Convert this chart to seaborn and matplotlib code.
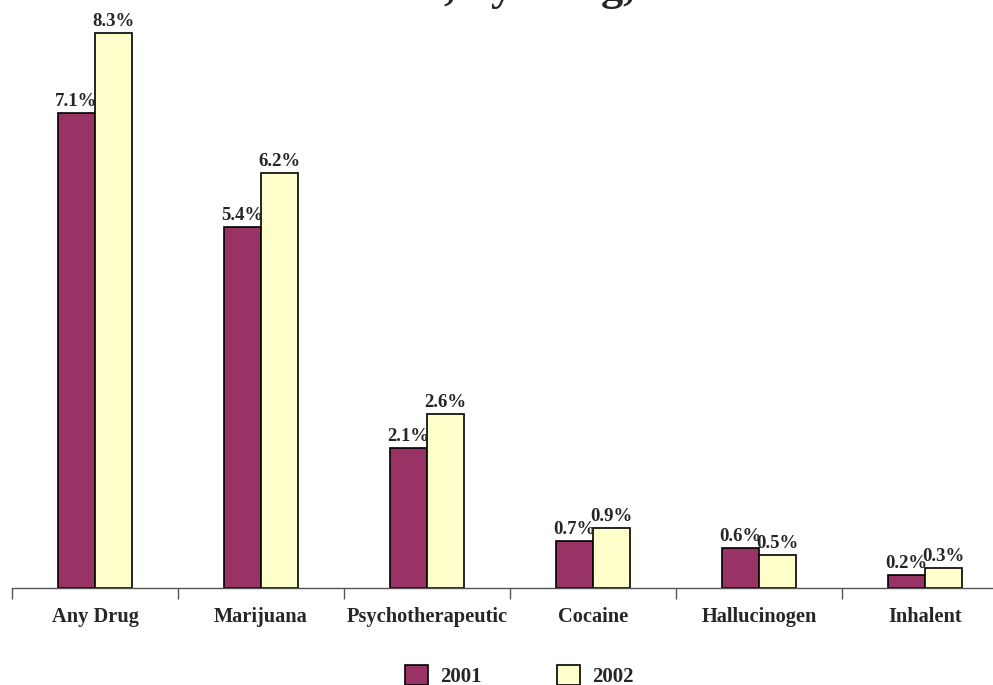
import pandas as pd
import matplotlib
matplotlib.use("Agg")
import matplotlib.pyplot as plt
import seaborn as sns
from matplotlib.ticker import FixedLocator

# -----------------------------
# DATA
# -----------------------------
drugs = ["Any Drug", "Marijuana", "Psychotherapeutic", "Cocaine", "Hallucinogen", "Inhalent"]
years = ["2001", "2002"]
use_2001 = [7.1, 5.4, 2.1, 0.7, 0.6, 0.2]
use_2002 = [8.3, 6.2, 2.6, 0.9, 0.5, 0.3]

df = pd.DataFrame({
    "drug": drugs * 2,
    "year": [years[0]] * len(drugs) + [years[1]] * len(drugs),
    "pct": use_2001 + use_2002,
})

# -----------------------------
# PLOT
# -----------------------------
sns.set_style("white")
plt.rcParams["font.family"] = ["Liberation Serif", "DejaVu Serif"]

fig = plt.figure(figsize=(9.93, 6.85), dpi=100)
ax = fig.add_axes([12 / 993, 97 / 685, 996 / 993, 588 / 685])

sns.barplot(
    data=df, x="drug", y="pct", hue="year",
    palette=["#993366", "#FFFFCC"], saturation=1, width=0.446,
    edgecolor="black", linewidth=1.2, ax=ax, legend=True,
)

for cont in ax.containers:
    ax.bar_label(cont, fmt="%.1f%%", padding=2, fontsize=13.5, fontweight="bold")

ax.set_xlim(-0.5, len(drugs) - 0.5)
ax.set_ylim(0, 8.79)
ax.set_xlabel("")
ax.set_ylabel("")
ax.set_yticks([])
for s in ["top", "right", "left"]:
    ax.spines[s].set_visible(False)
ax.spines["bottom"].set_color("#555555")
ax.spines["bottom"].set_linewidth(1.0)

ax.tick_params(axis="x", which="major", length=0, pad=14, labelsize=14.7)
for lab in ax.get_xticklabels():
    lab.set_fontweight("bold")
ax.xaxis.set_minor_locator(FixedLocator([i - 0.5 for i in range(len(drugs) + 1)]))
ax.tick_params(axis="x", which="minor", bottom=True, length=8, width=1.0, color="#555555", direction="out")

handles, labels = ax.get_legend_handles_labels()
ax.get_legend().remove()
fig.legend(
    handles, labels, loc="lower center", bbox_to_anchor=(0.523, -0.03), ncol=2,
    frameon=False, prop={"weight": "bold", "size": 15},
    handlelength=1.1, handleheight=1.1, columnspacing=3.6, handletextpad=0.6,
)

# title is cut off at the top edge in the original; only the lower part shows
fig.text(0.543, 1.0, ", by Drug,", ha="center", va="baseline", fontsize=32, fontweight="bold")

fig.savefig("out.png", dpi=100)
